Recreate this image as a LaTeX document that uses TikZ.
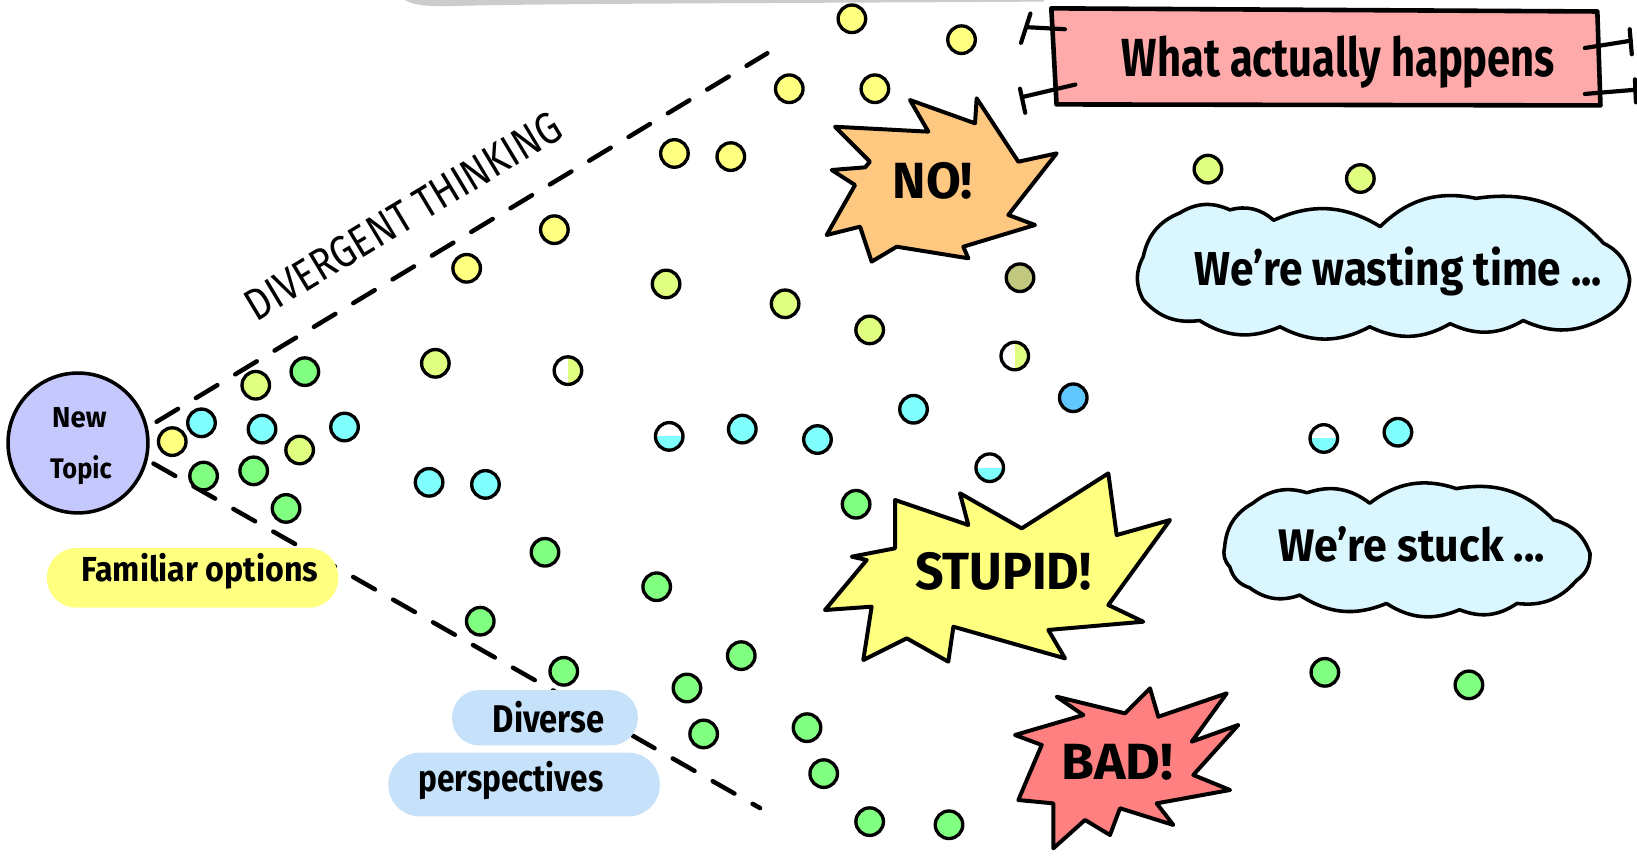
\documentclass[tikz,border=0pt]{standalone}
\usepackage{fontspec}
\setmainfont{Fira Sans}
\usepackage{graphicx}
\definecolor{dyellow}{RGB}{255,255,128}
\definecolor{dlime}{RGB}{224,255,128}
\definecolor{dgreen}{RGB}{128,255,128}
\definecolor{dcyan}{RGB}{128,255,255}
\definecolor{dblue}{RGB}{96,200,255}
\definecolor{dolive}{RGB}{194,200,128}
\definecolor{topicfill}{RGB}{196,200,252}
\definecolor{hiyellow}{RGB}{255,255,128}
\definecolor{hiblue}{RGB}{198,226,250}
\definecolor{cloudfill}{RGB}{218,246,255}
\definecolor{nofill}{RGB}{255,200,128}
\definecolor{stupidfill}{RGB}{255,255,128}
\definecolor{badfill}{RGB}{255,128,128}
\definecolor{boxpink}{RGB}{255,170,170}
\definecolor{topband}{RGB}{204,204,204}
\newcommand\fitbox[3]{\resizebox{#1}{#2}{\bfseries\vphantom{Dl}#3}}
\begin{document}
\begin{tikzpicture}[x=0.5pt,y=-0.5pt,
  ball/.style={circle, draw=black, line width=1.6pt, minimum size=13.2pt, inner sep=0pt},
  yb/.style={ball, fill=dyellow},
  lb/.style={ball, fill=dlime},
  gb/.style={ball, fill=dgreen},
  cb/.style={ball, fill=dcyan},
  bb/.style={ball, fill=dblue},
  ob/.style={ball, fill=dolive},
  halfright/.style={ball, fill=white, path picture={\fill[#1] (path picture bounding box.north) rectangle (path picture bounding box.south east);}},
  halfbottom/.style={ball, fill=white, path picture={\fill[#1] (path picture bounding box.west) rectangle (path picture bounding box.south east);}},
  dashline/.style={line width=2.15pt, dash pattern=on 12pt off 10pt, line cap=round},
  burst/.style={draw=black, line width=1.9pt, line join=round},
  puff/.style={draw=black, line width=1.7pt, line join=round, fill=cloudfill},
  bar/.style={line width=2pt, line cap=round},
  txt/.style={inner sep=0pt, outer sep=0pt, anchor=base},
  hilite/.style={rounded corners=#1}
]
\useasboundingbox (0,0) rectangle (1568,819);
\fill[white] (0,0) rectangle (1568,819);

% faint band along the top edge
\fill[topband] (388,0) -- (1000,0) -- (1000,1.5) .. controls (800,3) and (520,3) .. (425,6) .. controls (405,6) and (394,4) .. (388,0) -- cycle;

% the topic
\node[circle, draw=black, line width=1.7pt, fill=topicfill, minimum size=67pt, inner sep=0pt] (topic) at (74.7,424.3) {};
\node[txt] (tnew) at (76,409) {\fitbox{26pt}{10.5pt}{New}};
\node[txt] (ttopic) at (77.5,458) {\fitbox{29.5pt}{11pt}{Topic}};

% the two edges of the funnel
\coordinate (upStart) at (150,404);
\coordinate (upEnd) at (735,51);
\coordinate (lowStart) at (147,444);
\coordinate (lowEnd) at (728,774);
\draw[dashline] (upStart) -- (upEnd);
\draw[dashline] (lowStart) -- (lowEnd);

\node[inner sep=0pt, rotate=31] (divergent) at (386,207) {\resizebox{172.5pt}{15pt}{\vphantom{D}DIVERGENT THINKING}};

% highlighted labels
\fill[hiyellow, hilite=14pt] (45,525) rectangle (324,582);
\node[txt] (familiar) at (191.5,557) {\fitbox{113.5pt}{13.5pt}{Familiar options}};
\fill[hiblue, hilite=13pt] (433,661) rectangle (611,714);
\fill[hiblue, hilite=15pt] (372,721) rectangle (632,782);
\node[txt] (diverse) at (525.5,702) {\fitbox{53.5pt}{15pt}{Diverse}};
\node[txt] (persp) at (489.5,758) {\fitbox{88.5pt}{14.5pt}{perspectives}};

% ideas
\foreach \x/\y [count=\i] in {816/18,921/38,756/85,838/85,646/147,700/150,531/220,447/257,165/423}
  \node[yb] (y\i) at (\x,\y) {};
\foreach \x/\y [count=\i] in {1157/162,1303/171,638/272,752/291,833/316,417/348,245/369,287/431}
  \node[lb] (l\i) at (\x,\y) {};
\node[halfright=dlime] (hl1) at (544,355) {};
\node[halfright=dlime] (hl2) at (972,341) {};
\node[ob] (o1) at (977,266) {};
\foreach \x/\y [count=\i] in {193/405,251/411,330/409,411/462,465/464,711/411,783/421,875/392,1339/414}
  \node[cb] (c\i) at (\x,\y) {};
\node[halfbottom=dcyan] (hc1) at (641,418) {};
\node[halfbottom=dcyan] (hc2) at (948,448) {};
\node[halfbottom=dcyan] (hc3) at (1268,420) {};
\node[bb] (b1) at (1028,381) {};
\foreach \x/\y [count=\i] in {292/356,195/456,243/451,274/487,522/529,460/595,629/562,540/643,710/628,658/659,674/703,773/697,789/741,833/787,909/790,820/483,1269/644,1407/656}
  \node[gb] (g\i) at (\x,\y) {};

% what actually happens
\draw[line width=2.2pt, line join=round, fill=boxpink] (1007,8) -- (1530,11) -- (1533,101) -- (1012,100) -- cycle;
\node[txt] (happens) at (1282,73) {\fitbox{207.5pt}{19.5pt}{What actually happens}};
\draw[bar] (983,26) -- (1020,28);
\draw[bar] (987,13) -- (978,41);
\draw[bar] (979,93) -- (1030,81);
\draw[bar] (977,85) -- (982,108);
\draw[bar] (1518,46) -- (1562,39);
\draw[bar] (1561,28) -- (1563,52);
\draw[bar] (1518,90) -- (1566,86);
\draw[bar] (1566,76) -- (1567,98);

% NO!
\draw[burst, fill=nofill] (799.8,121.4) -- (889.2,126.1) -- (871.6,95.8) -- (933.9,118.1) -- (935.5,94.2) -- (975.4,154.9) -- (1012.1,146.9) -- (965.8,205.9) -- (991.4,215.5) -- (922.7,236.3) -- (927.5,247.4) -- (858.9,236.3) -- (834.9,250.6) -- (823.8,217.1) -- (791.8,225.1) -- (819,177.2) -- (796.6,162.8) -- (828.6,160.3) -- (833.3,154.9) -- cycle;
\node[txt] (no) at (893.5,190) {\fitbox{38.5pt}{18.5pt}{NO!}};

% STUPID!
\draw[burst, fill=stupidfill] (857.3,478.9) -- (927.5,502.9) -- (919.5,472.5) -- (978.6,506.1) -- (1061.6,453.4) -- (1069.6,512.5) -- (1120.7,498.1) -- (1061.6,579.5) -- (1095.1,595.5) -- (1004.1,603.4) -- (1020.1,630.6) -- (913.2,600.3) -- (908.3,633.8) -- (868.5,611.4) -- (826.9,632.2) -- (834.9,581.1) -- (790.2,584.3) -- (830.2,536.4) -- (815.8,533.2) -- (857.3,525.2) -- cycle;
\node[txt] (stupid) at (961,565) {\fitbox{84.5pt}{19pt}{STUPID!}};

% BAD!
\draw[burst, fill=badfill] (1012.1,667.3) -- (1037.7,684.9) -- (972.2,704) -- (997.8,713.6) -- (975.4,766.3) -- (1008.9,769.5) -- (1008.9,812.6) -- (1039.3,785.4) -- (1063.2,799.8) -- (1072.8,774.2) -- (1123.9,790.2) -- (1107.9,769.5) -- (1178.2,756.7) -- (1143,742.3) -- (1186.1,694.4) -- (1141.5,710.4) -- (1175,664.1) -- (1109.5,686.5) -- (1101.5,659.3) -- (1077.6,683.3) -- cycle;
\node[txt] (bad) at (1070.5,747) {\fitbox{53.5pt}{18.5pt}{BAD!}};

% thought clouds
\draw[puff] (1095,246) to[bend left=28] (1130,204) to[bend left=28] (1178,201) to[bend left=28] (1220,211) to[bend left=28] (1322,217) to[bend left=28] (1414,190) to[bend left=28] (1536,233) to[bend left=28] (1561,268) to[bend left=28] (1539,303) to[bend left=28] (1459,307) to[bend left=28] (1389,310) to[bend left=28] (1312,313) to[bend left=28] (1226,313) to[bend left=28] (1149,307) to[bend left=28] (1095,287) to[bend left=28] (1095,246) -- cycle;
\node[txt] (wasting) at (1339.4,273) {\fitbox{195pt}{18.5pt}{We’re wasting time ...}};

\draw[puff] (1173,524) to[bend left=28] (1200,482) to[bend left=28] (1252,472) to[bend left=28] (1312,482) to[bend left=28] (1395,468) to[bend left=28] (1488,498) to[bend left=28] (1523,530) to[bend left=28] (1510,556) to[bend left=28] (1453,578) to[bend left=28] (1398,584) to[bend left=28] (1328,578) to[bend left=28] (1245,570) to[bend left=28] (1197,563) to[bend left=28] (1178,543) to[bend left=28] (1173,524) -- cycle;
\node[txt] (stuck) at (1352,538) {\fitbox{127.75pt}{16.75pt}{We’re stuck ...}};
\end{tikzpicture}
\end{document}
